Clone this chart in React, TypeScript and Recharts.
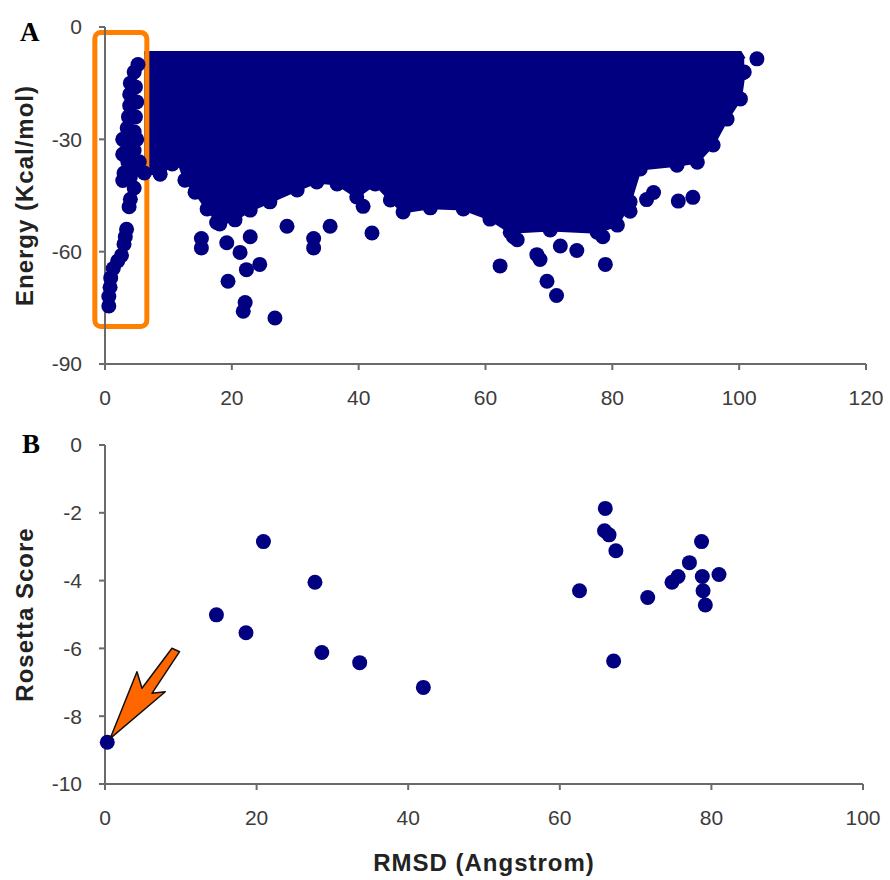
import {
  ComposedChart,
  ScatterChart,
  Scatter,
  Area,
  XAxis,
  YAxis,
  Label,
  ReferenceArea,
  ReferenceDot,
} from 'recharts'

// ============================================
// Data
// ============================================

// Panel A: the dense cloud of docking poses. Low = centres of the lowest
// poses along its lower edge, high = flat upper edge of the cloud.
const cloudRmsd = [
  6.2, 8.7, 10.6, 11.5, 12.6, 14.2, 16.1, 18.1, 20.5, 22.9, 26.0, 30.3, 33.4,
  36.6, 39.7, 42.6, 45.0, 47.0, 51.3, 56.5, 60.7, 63.9, 70.2, 77.6, 80.8, 82.8,
  84.4, 90.2, 93.4, 95.9, 98.1, 100.2, 100.8,
]
const cloudLow = [
  -39.0, -39.3, -36.6, -35.5, -40.9, -44.1, -48.6, -52.6, -51.5, -48.9, -46.7,
  -43.5, -41.4, -41.9, -45.4, -41.9, -46.2, -49.4, -48.3, -48.6, -51.3, -54.8,
  -54.2, -54.8, -52.9, -46.7, -37.9, -36.9, -36.1, -31.5, -24.6, -19.2, -12.0,
]
const cloudHigh = [
  -6.8, -6.8, -6.8, -6.8, -6.8, -6.8, -6.8, -6.8, -6.8, -6.8, -6.8, -6.8, -6.8,
  -6.8, -6.8, -6.8, -6.8, -6.8, -6.8, -6.8, -6.8, -6.8, -6.8, -6.8, -6.8, -6.8,
  -6.8, -6.8, -6.8, -6.8, -6.8, -6.8, -8.5,
]

// Panel A: single poses outside the cloud (near-native column + stragglers)
const poseRmsdA = [
  5.2, 4.6, 4.0, 3.9, 3.9, 3.7, 3.5, 3.3, 3.4, 3.6, 3.0, 2.8, 4.0, 4.8, 4.6,
  4.0, 3.8, 3.4, 3.2, 3.0, 2.6, 2.0, 1.3, 0.9, 0.8, 0.6, 0.6, 5.0, 5.0,
  4.8, 4.8, 4.6, 4.6, 2.8, 2.8, 5.4,
  15.2, 15.2, 17.6, 19.2, 21.3, 22.3, 24.4, 19.4, 22.1, 21.8, 26.8, 28.7, 32.9,
  32.9, 35.5, 40.7, 42.1, 22.9, 62.3, 64.4, 65.0, 68.1, 68.6, 69.7, 71.2, 71.8,
  74.4, 78.5, 78.9, 82.8, 85.4, 86.5, 90.4, 92.7, 100.6, 102.8,
]
const poseEnergyA = [
  -10, -12, -15, -18, -21, -24, -27, -30, -33, -36, -39, -41, -40, -38, -43,
  -46, -48, -54, -56, -58, -61, -62.5, -64.5, -67, -69.5, -72, -74.5, -20, -30,
  -16, -24, -28, -33, -30, -34, -36,
  -56.5, -59, -52.2, -57.6, -60.2, -64.8, -63.4, -67.9, -73.6, -75.9, -77.7,
  -53.2, -56.5, -59, -53.2, -47.9, -55.0, -56.0, -63.8, -56, -56.8, -60.8,
  -62.1, -67.9, -71.7, -58.5, -59.7, -56, -63.4, -49.2, -46.1, -44.2, -46.5,
  -45.5, -12.2, -8.5,
]

// Panel B: Rosetta refinement
const rmsdB = [
  0.3, 14.7, 18.6, 20.9, 27.7, 28.6, 33.6, 42.0, 62.6, 66.0, 65.9, 66.5, 67.4,
  67.1, 71.6, 74.8, 75.6, 77.1, 78.7, 78.8, 78.9, 79.2, 81.0,
]
const scoreB = [
  -8.77, -5.01, -5.54, -2.85, -4.05, -6.12, -6.42, -7.15, -4.3, -1.87, -2.53,
  -2.65, -3.12, -6.37, -4.5, -4.05, -3.88, -3.47, -2.85, -3.88, -4.3, -4.72,
  -3.82,
]

const ticksAX = [0, 20, 40, 60, 80, 100, 120]
const ticksAY = [0, -30, -60, -90]
const ticksBX = [0, 20, 40, 60, 80, 100]
const ticksBY = [0, -2, -4, -6, -8, -10]

const cloud = cloudRmsd.map((x, i) => ({ x, band: [cloudLow[i], cloudHigh[i]] }))
const cloudEdge = cloudRmsd.map((x, i) => ({ x, y: cloudLow[i] }))
const posesA = poseRmsdA.map((x, i) => ({ x, y: poseEnergyA[i] }))
const posesB = rmsdB.map((x, i) => ({ x, y: scoreB[i] }))

// ============================================
// Styles
// ============================================

const NAVY = '#000080'
const ORANGE = '#ff7f00'
const AXIS = '#6a6a6a'

const tickStyle = { fill: '#3c3c3c', fontSize: 21, fontFamily: 'Liberation Sans, Arial, sans-serif' }
const titleStyle = {
  fill: '#222',
  fontSize: 24,
  fontWeight: 700,
  letterSpacing: 1,
  fontFamily: 'Liberation Sans, Arial, sans-serif',
}
const panelStyle = { fontFamily: 'Liberation Serif, Times New Roman, serif', fontWeight: 700, fontSize: 27 }

// ============================================
// Shapes
// ============================================

const Dot = (props: any) => <circle cx={props.cx} cy={props.cy} r={7.5} fill={NAVY} />

function sideTitle(text: string, x: number) {
  return (props: any) => {
    const vb = props.viewBox
    const cy = vb.y + vb.height / 2
    return (
      <text
        x={x}
        y={cy}
        transform={`rotate(-90 ${x} ${cy})`}
        textAnchor="middle"
        dominantBaseline="central"
        style={titleStyle}
      >
        {text}
      </text>
    )
  }
}

function bottomTitle(text: string) {
  return (props: any) => {
    const vb = props.viewBox
    const cx = vb.x + vb.width / 2
    return (
      <text x={cx} y={vb.y + 78} textAnchor="middle" dominantBaseline="central" style={titleStyle}>
        {text}
      </text>
    )
  }
}

// barbed arrow whose tip touches the best-scoring dot
const Arrow = (props: any) => {
  const cx = props.cx + 3
  const cy = props.cy - 4
  const pts = [
    [0, 0],
    [55, -46.6],
    [41.7, -45],
    [69.3, -86.6],
    [61.7, -90],
    [31.7, -50],
    [26.7, -66.6],
  ]
    .map(([dx, dy]) => `${cx + dx},${cy + dy}`)
    .join(' ')
  return <polygon points={pts} fill="#ff6600" stroke="#111" strokeWidth={1.5} strokeLinejoin="round" />
}

// ============================================
// Main Component
// ============================================

export default function App() {
  const axisProps = {
    axisLine: { stroke: AXIS, strokeWidth: 2 },
    tickLine: { stroke: AXIS, strokeWidth: 2 },
    tick: tickStyle,
    tickSize: 6,
  }

  return (
    <div style={{ position: 'absolute', left: 0, top: 0, width: 890, height: 880, background: '#fff' }}>
      <ComposedChart width={890} height={425} data={cloud} margin={{ top: 27, right: 24, bottom: 11, left: 0 }}>
        <XAxis
          type="number"
          dataKey="x"
          domain={[0, 120]}
          ticks={ticksAX}
          height={50}
          tickMargin={20}
          {...axisProps}
        />
        <YAxis
          type="number"
          dataKey="y"
          domain={[-90, 0]}
          ticks={ticksAY}
          width={105}
          tickMargin={17}
          {...axisProps}
        >
          <Label content={sideTitle('Energy (Kcal/mol)', 24)} />
        </YAxis>
        <Area
          type="linear"
          dataKey="band"
          fill={NAVY}
          fillOpacity={1}
          stroke={NAVY}
          strokeWidth={3}
          dot={false}
          activeDot={false}
          isAnimationActive={false}
        />
        <Scatter data={cloudEdge} shape={Dot} isAnimationActive={false} />
        <Scatter data={posesA} shape={Dot} isAnimationActive={false} />
        <ReferenceArea
          x1={-1.6}
          x2={6.6}
          y1={-80}
          y2={-1.5}
          ifOverflow="visible"
          fill="none"
          stroke={ORANGE}
          strokeWidth={5}
          radius={6}
        />
      </ComposedChart>

      <ScatterChart width={890} height={455} margin={{ top: 20, right: 27, bottom: 0, left: 0 }}>
        <XAxis
          type="number"
          dataKey="x"
          domain={[0, 100]}
          ticks={ticksBX}
          height={96}
          tickMargin={20}
          {...axisProps}
        >
          <Label content={bottomTitle('RMSD (Angstrom)')} />
        </XAxis>
        <YAxis
          type="number"
          dataKey="y"
          domain={[-10, 0]}
          ticks={ticksBY}
          width={105}
          tickMargin={17}
          {...axisProps}
        >
          <Label content={sideTitle('Rosetta Score', 24)} />
        </YAxis>
        <Scatter data={posesB} shape={Dot} isAnimationActive={false} />
        <ReferenceDot x={rmsdB[0]} y={scoreB[0]} shape={Arrow} ifOverflow="visible" />
      </ScatterChart>

      <svg width={890} height={880} style={{ position: 'absolute', left: 0, top: 0, pointerEvents: 'none' }}>
        <text x={20} y={41} style={panelStyle}>
          A
        </text>
        <text x={22} y={453} style={panelStyle}>
          B
        </text>
      </svg>
    </div>
  )
}
